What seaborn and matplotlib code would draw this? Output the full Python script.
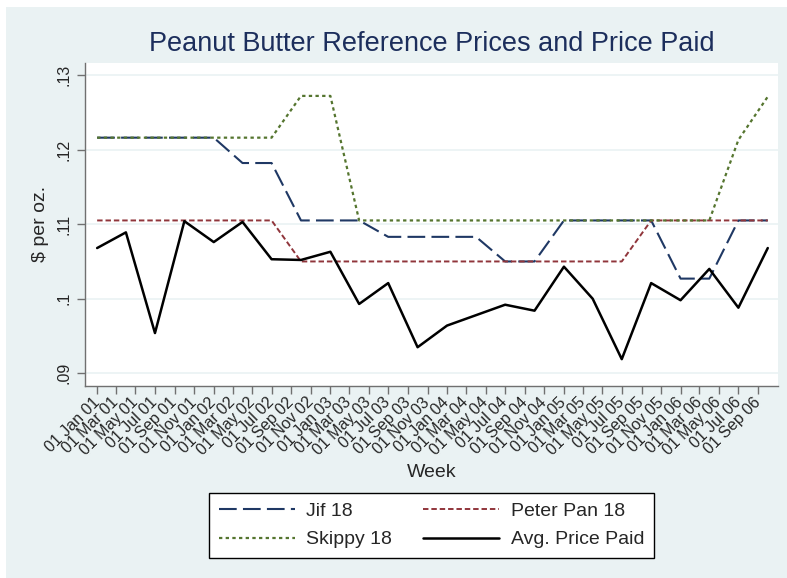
import matplotlib
matplotlib.use("Agg")
import matplotlib.pyplot as plt
import matplotlib.dates as mdates
from matplotlib.patches import Rectangle
import pandas as pd
import seaborn as sns

sns.set_theme(style="white")
plt.rcParams["font.family"] = ["Liberation Sans", "DejaVu Sans"]

BG = "#EAF2F3"

# quarterly observations, Jan 2001 .. Oct 2006
week = pd.date_range("2001-01-01", periods=24, freq="QS")

jif = [0.1216, 0.1216, 0.1216, 0.1216, 0.1216, 0.1182, 0.1182, 0.1105,
       0.1105, 0.1105, 0.1083, 0.1083, 0.1083, 0.1083, 0.1050, 0.1050,
       0.1105, 0.1105, 0.1105, 0.1105, 0.1027, 0.1027, 0.1105, 0.1105]
peter_pan = [0.1105, 0.1105, 0.1105, 0.1105, 0.1105, 0.1105, 0.1105, 0.1050,
             0.1050, 0.1050, 0.1050, 0.1050, 0.1050, 0.1050, 0.1050, 0.1050,
             0.1050, 0.1050, 0.1050, 0.1105, 0.1105, 0.1105, 0.1105, 0.1105]
skippy = [0.1216, 0.1216, 0.1216, 0.1216, 0.1216, 0.1216, 0.1216, 0.1272,
          0.1272, 0.1105, 0.1105, 0.1105, 0.1105, 0.1105, 0.1105, 0.1105,
          0.1105, 0.1105, 0.1105, 0.1105, 0.1105, 0.1105, 0.1213, 0.1271]
avg_paid = [0.1068, 0.1089, 0.0954, 0.1104, 0.1076, 0.1103, 0.1053, 0.1052,
            0.1063, 0.0993, 0.1021, 0.0935, 0.0964, 0.0978, 0.0992, 0.0984,
            0.1043, 0.1000, 0.0919, 0.1021, 0.0998, 0.1040, 0.0988, 0.1068]

x_ticks = pd.date_range("2001-01-01", "2006-09-01", freq="2MS")
y_ticks = [0.09, 0.10, 0.11, 0.12, 0.13]
y_ticklabels = [".09", ".1", ".11", ".12", ".13"]

fig = plt.figure(figsize=(7.87, 5.78), dpi=100, facecolor="white")
fig.patches.append(Rectangle((6 / 787, 0), 1, 1 - 7 / 578, transform=fig.transFigure,
                             facecolor=BG, edgecolor="none", zorder=-10))
ax = fig.add_axes([85 / 787, 1 - 386 / 578, 693 / 787, 323.5 / 578])
ax.set_facecolor("white")

sns.lineplot(x=week, y=jif, ax=ax, color="#1F3864", lw=1.5,
             linestyle=(0, (8.5, 3)), label="Jif 18")
sns.lineplot(x=week, y=peter_pan, ax=ax, color="#90353B", lw=1.4,
             linestyle=(0, (2.8, 1.5)), label="Peter Pan 18")
sns.lineplot(x=week, y=skippy, ax=ax, color="#55752F", lw=1.6,
             linestyle=(0, (1.5, 1.5)), label="Skippy 18")
sns.lineplot(x=week, y=avg_paid, ax=ax, color="black", lw=1.8,
             label="Avg. Price Paid")

ax.set_xlim(pd.Timestamp("2000-11-24"), pd.Timestamp("2006-11-02"))
ax.set_ylim(0.0883, 0.13168)

ax.set_yticks(y_ticks)
ax.set_yticklabels(y_ticklabels, rotation=90, va="center", fontsize=11.5)
ax.set_xticks(x_ticks)
ax.xaxis.set_major_formatter(mdates.DateFormatter("%d %b %y"))
for lab in ax.get_xticklabels():
    lab.set_rotation(45)
    lab.set_ha("right")
    lab.set_va("center")
    lab.set_rotation_mode("anchor")
    lab.set_fontsize(11.5)

ax.tick_params(axis="both", which="major", length=6, width=1, color="#707070",
               direction="out", bottom=True, left=True, pad=4)
ax.grid(axis="y", color=BG, lw=1.2)
ax.grid(axis="x", visible=False)
for side in ["top", "right"]:
    ax.spines[side].set_visible(False)
for side in ["left", "bottom"]:
    ax.spines[side].set_color("#707070")
    ax.spines[side].set_linewidth(1)

ax.set_xlabel("Week", fontsize=14, labelpad=4)
ax.set_ylabel("$ per oz.", fontsize=14, labelpad=5)
ax.set_title("Peanut Butter Reference Prices and Price Paid", fontsize=19.5,
             color="#1C2E5C", pad=8)

handles, labels = ax.get_legend_handles_labels()
ax.get_legend().remove()
order = [0, 2, 1, 3]
leg = fig.legend([handles[i] for i in order], [labels[i] for i in order],
                 loc="upper center", bbox_to_anchor=(431.5 / 787, 1 - 492.7 / 578),
                 ncol=2, fontsize=14, frameon=True, fancybox=False,
                 handlelength=3.9, handletextpad=0.6, columnspacing=1.6,
                 labelspacing=0.55, borderpad=0.5, borderaxespad=0)
leg.get_frame().set_edgecolor("black")
leg.get_frame().set_linewidth(1)
leg.get_frame().set_facecolor("white")
leg.get_frame().set_alpha(1)

fig.savefig("out.png", dpi=100, facecolor=fig.get_facecolor())
